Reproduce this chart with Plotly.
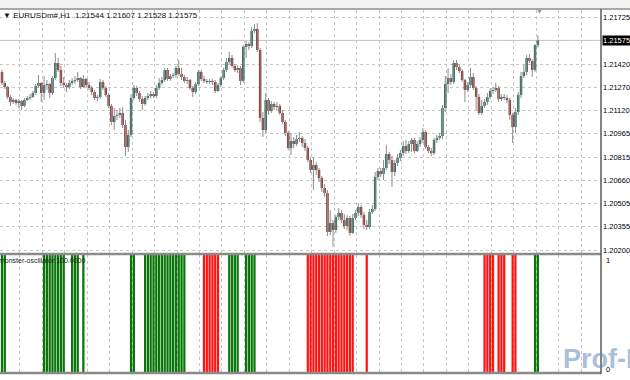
import plotly.graph_objects as go

# ---------------- data (prices stored as points above 1.20000) ----------------
opens_pts = [1368,1296,1269,1204,1171,1184,1164,1177,1145,1184,1197,1204,1230,1276,1296,1230,1282,1289,1230,1328,
             1427,1381,1296,1282,1269,1296,1309,1315,1328,1269,1322,1282,1263,1236,1197,1204,1302,1263,1217,1145,
             1040,1079,1086,1099,1020,876,954,1197,1263,1230,1191,1158,1197,1210,1223,1210,1263,1296,1315,1381,
             1322,1341,1348,1394,1355,1335,1309,1315,1263,1236,1289,1368,1322,1309,1302,1309,1302,1243,1282,1328,
             1381,1433,1460,1407,1381,1394,1309,1532,1551,1538,1637,1650,1512,1066,987,1184,1112,1158,1138,1145,
             1099,1040,968,869,915,895,928,935,902,869,790,725,758,725,672,607,574,318,377,331,
             417,443,397,357,410,312,410,443,482,430,364,351,449,469,679,718,699,738,830,790,
             712,771,804,836,882,849,895,922,849,895,922,974,876,849,836,922,935,948,1132,1289,
             1328,1302,1427,1400,1374,1315,1250,1282,1335,1263,1204,1099,1145,1171,1204,1243,1250,1263,1191,1204,
             1197,1184,1086,1007,1105,1217,1341,1368,1460,1440,1381,1544]
highs_pts = [1381,1309,1276,1217,1197,1191,1191,1184,1197,1210,1223,1243,1289,1348,1302,1341,1315,1296,1341,1492,
             1460,1407,1335,1296,1315,1328,1341,1368,1335,1348,1328,1302,1276,1250,1217,1322,1315,1276,1230,1158,
             1132,1118,1132,1138,1053,987,1223,1282,1276,1243,1210,1210,1230,1243,1236,1282,1328,1335,1394,1394,
             1355,1361,1407,1446,1394,1348,1335,1322,1276,1302,1381,1381,1341,1322,1322,1322,1315,1296,1341,1394,
             1460,1499,1479,1420,1414,1407,1545,1571,1564,1663,1683,1689,1525,1105,1230,1197,1177,1171,1171,1158,
             1118,1053,981,968,941,954,974,948,928,882,810,810,777,738,685,633,594,462,397,430,
             476,462,436,430,423,436,462,508,495,449,397,469,495,712,738,738,790,889,843,817,
             790,830,856,915,922,915,935,935,915,941,1000,987,889,869,935,954,968,1151,1341,1394,
             1355,1446,1446,1420,1387,1322,1302,1394,1361,1276,1223,1184,1191,1230,1263,1269,1296,1276,1223,1223,
             1217,1197,1099,1132,1236,1368,1414,1479,1486,1453,1551,1607]
lows_pts = [1282,1256,1191,1145,1158,1151,1132,1118,1138,1177,1184,1197,1217,1263,1171,1184,1250,1197,1217,1315,
            1368,1276,1263,1236,1256,1282,1289,1302,1256,1263,1269,1250,1217,1184,1177,1191,1250,1204,1132,1020,
            987,1053,1066,1000,817,843,941,1184,1210,1171,1118,1145,1184,1197,1197,1197,1250,1282,1302,1309,
            1309,1328,1328,1341,1315,1296,1289,1250,1204,1223,1276,1309,1296,1289,1289,1282,1230,1236,1269,1315,
            1368,1420,1394,1368,1361,1282,1296,1460,1512,1525,1624,1499,1040,941,968,1086,1099,1118,1118,1086,
            1026,948,856,823,869,882,908,876,849,777,705,594,692,646,580,548,292,298,220,312,
            397,377,338,331,292,305,397,423,410,338,331,338,436,456,659,679,659,725,764,613,
            685,751,784,817,830,836,843,836,843,876,902,863,836,817,823,902,922,928,1105,1230,
            1282,1289,1381,1361,1302,1171,1236,1263,1250,1118,1086,1086,1132,1151,1191,1223,1236,1171,1177,1184,
            1164,1053,902,968,1086,1197,1328,1348,1427,1335,1368,1528]
closes_pts = [1296,1269,1204,1171,1184,1164,1177,1145,1184,1197,1204,1230,1276,1296,1230,1282,1289,1230,1328,1427,
              1381,1296,1282,1269,1296,1309,1315,1328,1269,1322,1282,1263,1236,1197,1204,1302,1263,1217,1145,1040,
              1079,1086,1099,1020,876,954,1197,1263,1230,1191,1158,1197,1210,1223,1210,1263,1296,1315,1381,1322,
              1341,1348,1394,1355,1335,1309,1315,1263,1236,1289,1368,1322,1309,1302,1309,1302,1243,1282,1328,1381,
              1433,1460,1407,1381,1394,1309,1532,1551,1538,1637,1650,1512,1066,987,1184,1112,1158,1138,1145,1099,
              1040,968,869,915,895,928,935,902,869,790,725,758,725,672,607,574,318,377,331,417,
              443,397,357,410,312,410,443,482,430,364,351,449,469,679,718,699,738,830,790,712,
              771,804,836,882,849,895,922,849,895,922,974,876,849,836,922,935,948,1132,1289,1328,
              1302,1427,1400,1374,1315,1250,1282,1335,1263,1204,1099,1145,1171,1204,1243,1250,1263,1191,1204,1197,
              1184,1086,1007,1105,1217,1341,1368,1460,1440,1381,1544,1575]

osc_up_bars = [0, 1, 15, 16, 17, 18, 19, 20, 21, 22, 25, 26, 27, 29, 46, 47,
               51, 52, 53, 54, 55, 56, 57, 58, 59, 60, 61, 62, 63, 64, 65,
               81, 82, 83, 84, 87, 88, 89, 90, 190, 191]
osc_down_bars = [72, 73, 74, 75, 76, 77,
                 109, 110, 111, 112, 113, 114, 115, 116, 117, 118, 119, 120, 121, 122, 123, 124, 125,
                 130, 172, 173, 174, 175, 177, 178, 179, 182, 183]

price_ticks = [1.21725, 1.215725, 1.21420, 1.212675, 1.21115, 1.209625, 1.20810, 1.206575, 1.20505, 1.203525, 1.20200]
price_labels = ["1.21725", "", "1.21420", "1.21270", "1.21120", "1.20965", "1.20815", "1.20660", "1.20505", "1.20355", "1.20200"]
bid_price = 1.21575
symbol_text = "\u25bc EURUSDm#,H1  1.21544 1.21607 1.21528 1.21575"
osc_name = "monster-oscillator 100.0000"

# ---------------- derived ----------------
to_price = lambda p: round(1.2 + p / 1e5, 5)
o = [to_price(v) for v in opens_pts]
h = [to_price(v) for v in highs_pts]
l = [to_price(v) for v in lows_pts]
c = [to_price(v) for v in closes_pts]
idx = list(range(len(c)))

body_base = [min(a, b) for a, b in zip(o, c)]
body_h = [max(abs(b - a), 0.00003) for a, b in zip(o, c)]
BULL, BEAR = "#1d6656", "#8e2626"
body_col = [BULL if b >= a else BEAR for a, b in zip(o, c)]

# ---------------- layout helpers (pixel positions) ----------------
W, H = 630, 380
ML, MR, MT, MB = 0, 27, 10, 8
PW, PH = W - ML - MR, H - MT - MB
def xp(px):
    return (px - ML) / PW
def yp(py):
    return (H - MB - py) / PH

X0 = -0.71
X1 = X0 + PW / 2.815
grid_x = [6.39 + 8 * k for k in range(26)]
FONT = "Liberation Sans"
GRID = "#c6c6c6"

fig = go.Figure()
fig.add_trace(go.Ohlc(x=idx, open=o, high=h, low=l, close=c, tickwidth=0,
                      increasing=dict(line=dict(color="#8c8c8c", width=1)),
                      decreasing=dict(line=dict(color="#8c8c8c", width=1)),
                      hoverinfo="skip", xaxis="x", yaxis="y", showlegend=False))
fig.add_trace(go.Bar(x=idx, y=body_h, base=body_base, width=0.88,
                     marker=dict(color=body_col, line=dict(width=0)),
                     hoverinfo="skip", xaxis="x", yaxis="y", showlegend=False))
fig.add_trace(go.Bar(x=osc_up_bars, y=[1] * len(osc_up_bars), width=0.8,
                     marker=dict(color="#0a760a", line=dict(width=0)),
                     hoverinfo="skip", xaxis="x2", yaxis="y2", showlegend=False))
fig.add_trace(go.Bar(x=osc_down_bars, y=[1] * len(osc_down_bars), width=0.8,
                     marker=dict(color="#ff1414", line=dict(width=0)),
                     hoverinfo="skip", xaxis="x2", yaxis="y2", showlegend=False))

main_bottom = yp(253)
osc_top = yp(255)

fig.update_layout(
    width=W, height=H, autosize=False,
    margin=dict(l=ML, r=MR, t=MT, b=MB),
    paper_bgcolor="white", plot_bgcolor="white",
    barmode="overlay", showlegend=False, hovermode=False,
    font=dict(family=FONT, size=8, color="black"),
    xaxis=dict(domain=[0, 1], range=[X0, X1], anchor="y", tickmode="array", tickvals=grid_x,
               showticklabels=False, ticks="", showgrid=True, gridcolor=GRID, griddash="dot",
               gridwidth=1, zeroline=False, showline=False, rangeslider=dict(visible=False),
               fixedrange=True),
    yaxis=dict(domain=[main_bottom, 1], range=[1.201803, 1.217744], side="right",
               tickmode="array", tickvals=price_ticks, ticktext=price_labels, ticks="",
               ticklabelstandoff=1, tickfont=dict(family=FONT, size=7.5, color="black"),
               showgrid=True, gridcolor=GRID, griddash="dot", gridwidth=1,
               zeroline=False, showline=False, fixedrange=True),
    xaxis2=dict(domain=[0, 1], range=[X0, X1], anchor="y2", tickmode="array", tickvals=grid_x,
                showticklabels=False, ticks="", showgrid=True, gridcolor=GRID, griddash="dot",
                zeroline=False, showline=False, fixedrange=True),
    yaxis2=dict(domain=[0, osc_top], range=[0, 1], showgrid=False, showticklabels=False,
                zeroline=False, showline=False, fixedrange=True),
)

shapes = [
    dict(type="rect", xref="paper", yref="paper", x0=-0.01, x1=1.1, y0=yp(8), y1=yp(-1),
         fillcolor="#f3f3f3", line=dict(width=0), layer="above"),
    dict(type="line", xref="paper", yref="paper", x0=-0.01, x1=1.1, y0=yp(9), y1=yp(9),
         line=dict(color="#a9a9a9", width=2), layer="above"),
    dict(type="line", xref="paper", yref="paper", x0=-0.01, x1=1.0, y0=yp(254), y1=yp(254),
         line=dict(color="#8a8a8a", width=2.5), layer="above"),
    dict(type="line", xref="paper", yref="paper", x0=-0.01, x1=1.0, y0=yp(373), y1=yp(373),
         line=dict(color="#8a8a8a", width=2.5), layer="above"),
    dict(type="line", xref="paper", yref="paper", x0=1.0, x1=1.0, y0=yp(374), y1=yp(9),
         line=dict(color="#5a5a5a", width=1.5), layer="above"),
    dict(type="line", xref="paper", yref="y", x0=0, x1=1.0, y0=bid_price, y1=bid_price,
         line=dict(color="#c4c4c4", width=1), layer="below"),
]
fig.update_layout(shapes=shapes)

ann = [
    dict(text=symbol_text, xref="paper", yref="paper", x=xp(1), y=yp(15.5), xanchor="left",
         yanchor="middle", showarrow=False, font=dict(family=FONT, size=8, color="#111")),
    dict(text=osc_name, xref="paper", yref="paper", x=xp(-3), y=yp(260), xanchor="left",
         yanchor="middle", showarrow=False, font=dict(family=FONT, size=7, color="#222")),
    dict(text="1.21575", xref="paper", yref="y", x=xp(604), y=bid_price, xanchor="left",
         yanchor="middle", showarrow=False, bgcolor="black", borderpad=0,
         font=dict(family=FONT, size=7.5, color="white")),
    dict(text="1", xref="paper", yref="paper", x=xp(606), y=yp(260), xanchor="left",
         yanchor="middle", showarrow=False, font=dict(family=FONT, size=7.5, color="black")),
    dict(text="0", xref="paper", yref="paper", x=xp(606), y=yp(369), xanchor="left",
         yanchor="middle", showarrow=False, font=dict(family=FONT, size=7.5, color="black")),
    dict(text="\u25bc", xref="paper", yref="paper", x=xp(541), y=yp(11), xanchor="center",
         yanchor="middle", showarrow=False, font=dict(family=FONT, size=7, color="#9a9a9a")),
    dict(text="<b>Prof-F</b>", xref="paper", yref="paper", x=xp(563), y=yp(359), xanchor="left",
         yanchor="middle", showarrow=False,
         font=dict(family="Liberation Sans", size=27, color="rgba(95,135,185,0.55)")),
]
fig.update_layout(annotations=ann)

fig.write_html("out.html", config={"displayModeBar": False, "staticPlot": True},
               post_script="document.body.style.margin='0px';document.body.style.overflow='hidden';")
